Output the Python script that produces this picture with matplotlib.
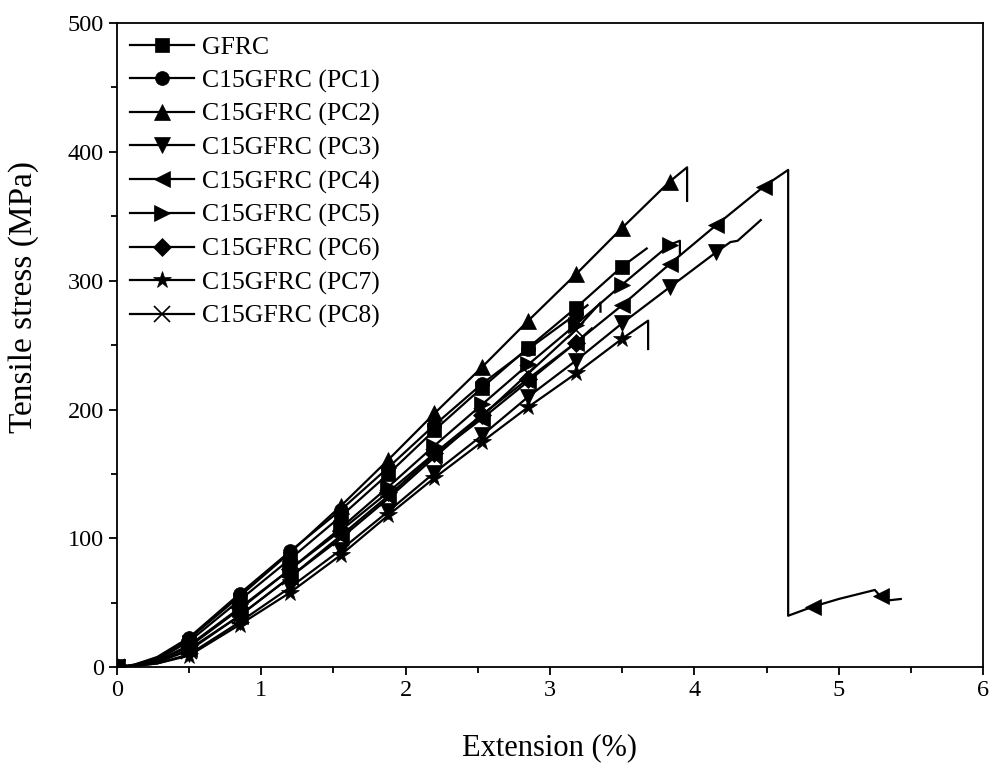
import matplotlib
matplotlib.use("Agg")
import matplotlib.pyplot as plt
from matplotlib.ticker import MultipleLocator

plt.rcParams["font.family"] = ["Liberation Serif", "DejaVu Serif"]

# extension (%) and tensile stress (MPa)
gfrc_x = [0, 0.12, 0.28, 0.5, 0.85, 1.2, 1.55, 1.88, 2.2, 2.53, 2.85, 3.18, 3.5, 3.67]
gfrc_y = [0, 1.5, 6, 20, 52, 84, 117, 150, 184, 217, 248, 279, 311, 325]

pc1_x = [0, 0.12, 0.28, 0.5, 0.85, 1.2, 1.55, 1.88, 2.2, 2.53, 2.85, 3.18, 3.26]
pc1_y = [0, 2, 8, 23, 57, 90, 122, 155, 188, 220, 247, 274, 281]

pc2_x = [0, 0.12, 0.28, 0.5, 0.85, 1.2, 1.55, 1.88, 2.2, 2.53, 2.85, 3.18, 3.5, 3.83, 3.95, 3.95]
pc2_y = [0, 2, 7, 22, 55, 89, 125, 161, 197, 233, 269, 305, 341, 377, 388, 362]

pc3_x = [0, 0.12, 0.28, 0.5, 0.85, 1.2, 1.55, 1.88, 2.2, 2.53, 2.85, 3.18, 3.5, 3.83, 4.15, 4.25, 4.3, 4.46]
pc3_y = [0, 1, 3, 10, 35, 62, 91, 121, 151, 180, 210, 238, 267, 295, 322, 330, 331, 347]

pc4_x = [0, 0.12, 0.28, 0.5, 0.85, 1.2, 1.55, 1.88, 2.2, 2.53, 2.85, 3.18, 3.5, 3.83, 4.15, 4.48,
         4.65, 4.65, 4.82, 5.0, 5.25, 5.29, 5.35, 5.43]
pc4_y = [0, 1, 4, 14, 40, 70, 102, 133, 165, 193, 222, 252, 281, 313, 343, 373,
         386, 40, 47, 53, 60, 55, 52, 53]

pc5_x = [0, 0.12, 0.28, 0.5, 0.85, 1.2, 1.55, 1.88, 2.2, 2.53, 2.85, 3.18, 3.5, 3.83, 3.9, 3.9]
pc5_y = [0, 1.5, 5, 16, 45, 76, 108, 140, 172, 204, 235, 266, 297, 328, 331, 320]

pc6_x = [0, 0.12, 0.28, 0.5, 0.85, 1.2, 1.55, 1.88, 2.2, 2.53, 2.85, 3.18, 3.29]
pc6_y = [0, 1.5, 5, 17, 46, 76, 106, 136, 166, 196, 224, 252, 263]

pc7_x = [0, 0.12, 0.28, 0.5, 0.85, 1.2, 1.55, 1.88, 2.2, 2.53, 2.85, 3.18, 3.5, 3.68, 3.68]
pc7_y = [0, 1, 3, 9, 33, 58, 87, 118, 147, 175, 202, 228, 255, 269, 247]

pc8_x = [0, 0.12, 0.28, 0.5, 0.85, 1.2, 1.55, 1.88, 2.2, 2.53, 2.85, 3.18, 3.35, 3.35]
pc8_y = [0, 1, 4, 13, 40, 70, 100, 131, 163, 195, 228, 262, 283, 276]

labels = ["GFRC", "C15GFRC (PC1)", "C15GFRC (PC2)", "C15GFRC (PC3)", "C15GFRC (PC4)",
          "C15GFRC (PC5)", "C15GFRC (PC6)", "C15GFRC (PC7)", "C15GFRC (PC8)"]
markers = ["s", "o", "^", "v", "<", ">", "D", "*", "x"]
xs = [gfrc_x, pc1_x, pc2_x, pc3_x, pc4_x, pc5_x, pc6_x, pc7_x, pc8_x]
ys = [gfrc_y, pc1_y, pc2_y, pc3_y, pc4_y, pc5_y, pc6_y, pc7_y, pc8_y]

marker_pos = [0, 0.5, 0.85, 1.2, 1.55, 1.88, 2.2, 2.53, 2.85, 3.18, 3.5, 3.83, 4.15, 4.48, 4.82, 5.29]

fig = plt.figure(figsize=(9.9, 7.67), dpi=100)
ax = fig.add_axes([0.118, 0.130, 0.875, 0.840])

for x, y, m, lab in zip(xs, ys, markers, labels):
    # only put a marker on the regularly spaced points
    idx = [i for i, v in enumerate(x) if v in marker_pos and (i == 0 or x[i - 1] != v)]
    ms = {"*": 13, "D": 9, "s": 10, "o": 10, "x": 11}.get(m, 11)
    ax.plot(x, y, color="black", linewidth=1.6, marker=m, markersize=ms,
            markevery=idx, markeredgewidth=1.2 if m == "x" else 0.5, label=lab)

ax.set_xlim(0, 6)
ax.set_ylim(0, 500)
ax.xaxis.set_major_locator(MultipleLocator(1))
ax.xaxis.set_minor_locator(MultipleLocator(0.5))
ax.yaxis.set_major_locator(MultipleLocator(100))
ax.yaxis.set_minor_locator(MultipleLocator(50))
ax.tick_params(which="both", direction="out", top=False, right=False, width=1.3, labelsize=17.5)
ax.tick_params(which="major", length=6)
ax.tick_params(which="minor", length=4)
for s in ax.spines.values():
    s.set_linewidth(1.3)

ax.set_xlabel("Extension (%)", fontsize=22)
ax.set_ylabel("Tensile stress (MPa)", fontsize=24)
ax.xaxis.set_label_coords(0.5, -0.102)
ax.yaxis.set_label_coords(-0.09, 0.575)

ax.legend(loc="upper left", bbox_to_anchor=(0.0, 1.0), frameon=False, fontsize=18.5,
          handlelength=2.5, labelspacing=0.4, handletextpad=0.3, borderaxespad=0.1)

fig.savefig("out.png", dpi=100)
